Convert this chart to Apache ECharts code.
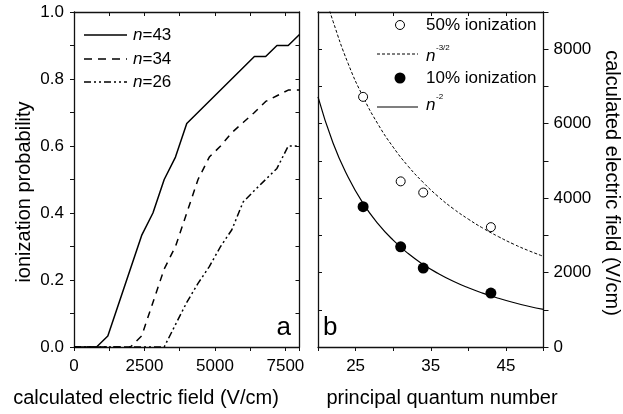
<!DOCTYPE html>
<html>
<head>
<meta charset="utf-8">
<script src="https://cdn.jsdelivr.net/npm/echarts@6/dist/echarts.min.js"></script>
<style>
html,body{margin:0;padding:0;background:#fff;}
#chart{width:623px;height:414px;}
</style>
</head>
<body>
<div id="chart"></div>
<script>
// ---- Panel a: ionization probability vs calculated field ----
const fieldN43 = [0, 800, 1200, 2400, 2800, 3200, 3600, 4000, 6400, 6800, 7200, 7600, 8000];
const probN43  = [0, 0, 0.033, 0.333, 0.4, 0.5, 0.567, 0.667, 0.867, 0.867, 0.9, 0.9, 0.933];

const fieldN34 = [0, 2000, 2400, 2800, 3200, 3600, 4000, 4400, 4800, 5200, 5600, 6000, 6400, 6800, 7200, 7600, 8000];
const probN34  = [0, 0, 0.033, 0.133, 0.233, 0.3, 0.4, 0.5, 0.567, 0.6, 0.64, 0.67, 0.7, 0.733, 0.75, 0.767, 0.767];

const fieldN26 = [0, 3200, 3600, 4000, 4400, 4800, 5200, 5600, 6000, 6400, 6800, 7200, 7600, 8000];
const probN26  = [0, 0, 0.067, 0.133, 0.19, 0.24, 0.3, 0.35, 0.433, 0.467, 0.5, 0.533, 0.6, 0.6];

const legendA = ['43', '34', '26'];

// ---- Panel b: field vs principal quantum number ----
const quantumN   = [26, 31, 34, 43];
const field50pct = [6720, 4450, 4150, 3220];
const field10pct = [3770, 2690, 2120, 1450];

const fitN2x  = [20, 22, 24, 26, 28, 30, 32, 34, 36, 38, 40, 42, 44, 46, 48, 50];
const fitN2y  = [6720, 5480, 4570, 3860, 3310, 2870, 2510, 2215, 1975, 1765, 1590, 1440, 1310, 1195, 1095, 1010];
const fitN15x = [21, 22, 24, 26, 28, 30, 32, 34, 36, 38, 40, 42, 44, 46, 48, 50];
const fitN15y = [9420, 8750, 7620, 6720, 5980, 5370, 4855, 4420, 4040, 3715, 3435, 3185, 2965, 2765, 2590, 2435];

// ---- Tick labels ----
const xTicksA = [0, 2500, 5000, 7500];
const yTicksA = ['0.0', '0.2', '0.4', '0.6', '0.8', '1.0'];
const xTicksB = [25, 35, 45];
const yTicksB = [0, 2000, 4000, 6000, 8000];

const FONT = "'Liberation Sans', Arial, Helvetica, sans-serif";
const AX = '#111';

function pairs(xs, ys) { return xs.map((x, i) => [x, ys[i]]); }

function frameAxis(extra) {
  return Object.assign({
    type: 'value',
    axisLine: { show: true, onZero: false, lineStyle: { color: AX, width: 1.3 } },
    axisTick: { show: true, inside: true, length: 4, interval: 0, lineStyle: { color: AX, width: 1 } },
    axisLabel: { show: false },
    splitLine: { show: false }
  }, extra);
}
function labelStyle(fmt, margin) {
  return { show: true, interval: 0, margin: margin, color: '#000', fontFamily: FONT, fontSize: 17, formatter: fmt };
}

const chart = echarts.init(document.getElementById('chart'), null, { renderer: 'canvas' });

const option = {
  backgroundColor: '#fff',
  animation: false,
  textStyle: { fontFamily: FONT, color: '#000' },
  grid: [
    { left: 74, top: 12, width: 225.5, height: 335 },
    { left: 318, top: 12, width: 225.5, height: 335 }
  ],
  xAxis: [
    frameAxis({ gridIndex: 0, position: 'bottom', min: 0, max: 8000, interval: 1250,
      axisTick: { show: true, inside: false, length: 4, interval: 0, lineStyle: { color: AX, width: 1 } },
      axisLabel: labelStyle(v => (xTicksA.indexOf(Math.round(v)) >= 0 ? String(Math.round(v)) : ''), 11) }),
    frameAxis({ gridIndex: 0, position: 'top', min: 0, max: 8000, interval: 1250 }),
    frameAxis({ gridIndex: 1, position: 'bottom', min: 20, max: 50, interval: 5,
      axisTick: { show: true, inside: false, length: 4, interval: 0, lineStyle: { color: AX, width: 1 } },
      axisLabel: labelStyle(v => (xTicksB.indexOf(Math.round(v)) >= 0 ? String(Math.round(v)) : ''), 11) }),
    frameAxis({ gridIndex: 1, position: 'top', min: 20, max: 50, interval: 5 })
  ],
  yAxis: [
    frameAxis({ gridIndex: 0, position: 'left', min: 0, max: 1, interval: 0.1,
      axisTick: { show: true, inside: false, length: 4, interval: 0, lineStyle: { color: AX, width: 1 } },
      axisLabel: labelStyle(v => { const s = (Math.round(v * 10) / 10).toFixed(1); return yTicksA.indexOf(s) >= 0 ? s : ''; }, 10) }),
    frameAxis({ gridIndex: 0, position: 'right', min: 0, max: 1, interval: 0.1 }),
    frameAxis({ gridIndex: 1, position: 'right', min: 0, max: 9000, interval: 1000,
      axisTick: { show: true, inside: false, length: 5, interval: 0, lineStyle: { color: AX, width: 1 } },
      axisLabel: labelStyle(v => (yTicksB.indexOf(Math.round(v)) >= 0 ? String(Math.round(v)) : ''), 10) }),
    frameAxis({ gridIndex: 1, position: 'left', min: 0, max: 9000, interval: 1000 })
  ],
  series: [
    { name: 'n=43', type: 'line', xAxisIndex: 0, yAxisIndex: 0, data: pairs(fieldN43, probN43),
      showSymbol: false, lineStyle: { color: '#000', width: 1.5 } },
    { name: 'n=34', type: 'line', xAxisIndex: 0, yAxisIndex: 0, data: pairs(fieldN34, probN34),
      showSymbol: false, lineStyle: { color: '#000', width: 1.5, type: [7, 6] } },
    { name: 'n=26', type: 'line', xAxisIndex: 0, yAxisIndex: 0, data: pairs(fieldN26, probN26),
      showSymbol: false, lineStyle: { color: '#000', width: 1.5, type: [7, 3, 2, 3, 2, 3] } },
    { name: 'n^-3/2', type: 'line', xAxisIndex: 2, yAxisIndex: 2, data: pairs(fitN15x, fitN15y),
      smooth: true, showSymbol: false, lineStyle: { color: '#000', width: 1, type: [3, 2] } },
    { name: 'n^-2', type: 'line', xAxisIndex: 2, yAxisIndex: 2, data: pairs(fitN2x, fitN2y),
      smooth: true, showSymbol: false, lineStyle: { color: '#000', width: 1.2 } },
    { name: '50% ionization', type: 'scatter', xAxisIndex: 2, yAxisIndex: 2, data: pairs(quantumN, field50pct),
      symbol: 'circle', symbolSize: 9, itemStyle: { color: '#fff', borderColor: '#000', borderWidth: 1, opacity: 1 }, z: 5 },
    { name: '10% ionization', type: 'scatter', xAxisIndex: 2, yAxisIndex: 2, data: pairs(quantumN, field10pct),
      symbol: 'circle', symbolSize: 11, itemStyle: { color: '#000', opacity: 1 }, z: 5 }
  ],
  graphic: [
    // Axis titles
    { type: 'text', x: 24, y: 192, rotation: Math.PI / 2,
      style: { text: 'ionization probability', font: '20px ' + FONT, fill: '#000', align: 'center', verticalAlign: 'middle', textAlign: 'center', textVerticalAlign: 'middle' } },
    { type: 'text', x: 146, y: 398,
      style: { text: 'calculated electric field (V/cm)', font: '20px ' + FONT, fill: '#000', align: 'center', verticalAlign: 'middle', textAlign: 'center', textVerticalAlign: 'middle' } },
    { type: 'text', x: 442, y: 398,
      style: { text: 'principal quantum number', font: '20px ' + FONT, fill: '#000', align: 'center', verticalAlign: 'middle', textAlign: 'center', textVerticalAlign: 'middle' } },
    { type: 'text', x: 612, y: 183, rotation: -Math.PI / 2,
      style: { text: 'calculated electric field (V/cm)', font: '20px ' + FONT, fill: '#000', align: 'center', verticalAlign: 'middle', textAlign: 'center', textVerticalAlign: 'middle' } },
    // Panel letters
    { type: 'text', x: 291, y: 328,
      style: { text: 'a', font: '26px ' + FONT, fill: '#000', align: 'right', verticalAlign: 'middle', textAlign: 'right', textVerticalAlign: 'middle' } },
    { type: 'text', x: 323, y: 328,
      style: { text: 'b', font: '26px ' + FONT, fill: '#000', align: 'left', verticalAlign: 'middle', textAlign: 'left', textVerticalAlign: 'middle' } },
    // Legend panel a
    { type: 'line', shape: { x1: 84, y1: 35, x2: 127, y2: 35 }, style: { stroke: '#000', lineWidth: 1.5 } },
    { type: 'line', shape: { x1: 84, y1: 59, x2: 127, y2: 59 }, style: { stroke: '#000', lineWidth: 1.5, lineDash: [8, 6] } },
    { type: 'line', shape: { x1: 84, y1: 82, x2: 127, y2: 82 }, style: { stroke: '#000', lineWidth: 1.5, lineDash: [7, 3, 2, 3, 2, 3] } },
    ...legendA.map((s, i) => ({ type: 'text', x: 133, y: [35, 59, 82][i],
      style: { text: '{i|n}=' + s, font: '17px ' + FONT, fill: '#000', verticalAlign: 'middle', textVerticalAlign: 'middle',
        rich: { i: { fontStyle: 'italic', fontSize: 17, fontFamily: FONT } } } })),
    // Legend panel b
    { type: 'circle', shape: { cx: 400, cy: 25, r: 4.5 }, style: { fill: '#fff', stroke: '#000', lineWidth: 1 } },
    { type: 'text', x: 426, y: 25, style: { text: '50% ionization', font: '17px ' + FONT, fill: '#000', verticalAlign: 'middle', textVerticalAlign: 'middle' } },
    { type: 'line', shape: { x1: 377, y1: 54, x2: 418, y2: 54 }, style: { stroke: '#000', lineWidth: 1, lineDash: [3, 2] } },
    { type: 'text', x: 426, y: 56, style: { text: 'n', font: 'italic 17px ' + FONT, fill: '#000', verticalAlign: 'middle', textVerticalAlign: 'middle' } },
    { type: 'text', x: 436, y: 48, style: { text: '-3/2', font: '8px ' + FONT, fill: '#000', verticalAlign: 'middle', textVerticalAlign: 'middle' } },
    { type: 'circle', shape: { cx: 400, cy: 78, r: 5.5 }, style: { fill: '#000' } },
    { type: 'text', x: 426, y: 78, style: { text: '10% ionization', font: '17px ' + FONT, fill: '#000', verticalAlign: 'middle', textVerticalAlign: 'middle' } },
    { type: 'line', shape: { x1: 377, y1: 107, x2: 418, y2: 107 }, style: { stroke: '#000', lineWidth: 1.2 } },
    { type: 'text', x: 426, y: 105, style: { text: 'n', font: 'italic 17px ' + FONT, fill: '#000', verticalAlign: 'middle', textVerticalAlign: 'middle' } },
    { type: 'text', x: 436, y: 97, style: { text: '-2', font: '8px ' + FONT, fill: '#000', verticalAlign: 'middle', textVerticalAlign: 'middle' } }
  ]
};
chart.setOption(option);
</script>
</body>
</html>
